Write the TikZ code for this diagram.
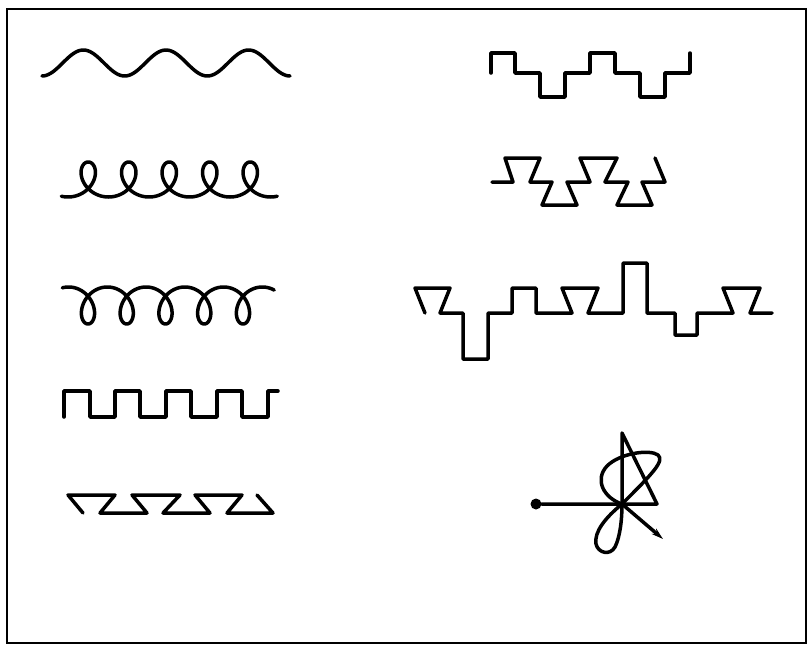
\documentclass[tikz,border=0pt]{standalone}
\usepackage{tikz}
\usetikzlibrary{arrows.meta}

\begin{document}
\begin{tikzpicture}[
  x=1pt, y=-1pt,
  stroke/.style={line width=3.5pt, line join=round, line cap=round},
  frame/.style={line width=2pt},
  dot/.style={circle, fill=black, inner sep=0pt, minimum size=11pt},
  arr/.style={-{Stealth[length=12pt, width=7pt]}}
]
  \useasboundingbox (0,0) rectangle (807,646);
  \draw[frame] (7,9) rectangle (806,643);

  % left column
  \draw[stroke] plot[domain=42:290, samples=120] (\x, {63+13*cos(4.355*(\x-42))});
  \draw[stroke] plot[domain=-0.3:31.72, samples=400, variable=\t]
    ({68+40.5*\t/(2*pi)+16*sin(\t r)}, {179.5+17.5*cos(\t r)});
  \draw[stroke] plot[domain=-0.3:32.0, samples=400, variable=\t]
    ({68.6+38.75*\t/(2*pi)+15*sin(\t r)}, {305.5-18.5*cos(\t r)});
  \draw[stroke] (64,417) -- (64,391) -- (90,391) -- (90,417) -- (115,417) -- (115,391)
    -- (140,391) -- (140,417) -- (166,417) -- (166,391) -- (191,391) -- (191,417)
    -- (217,417) -- (217,391) -- (242,391) -- (242,417) -- (268,417) -- (268,391) -- (278,391);
  \draw[stroke] (83,513) -- (68,495) -- (115,495) -- (100,513) -- (147,513) -- (132,495)
    -- (180,495) -- (163,513) -- (210,513) -- (195,495) -- (242,495) -- (227,513)
    -- (273,513) -- (257,495);

  % right column
  \draw[stroke] (491,73) -- (491,53) -- (515,53) -- (515,73) -- (540,73) -- (540,97)
    -- (565,97) -- (565,73) -- (590,73) -- (590,53) -- (615,53) -- (615,73)
    -- (640,73) -- (640,97) -- (665,97) -- (665,73) -- (690,73) -- (690,53);
  \draw[stroke] (492,182) -- (513,182) -- (505,158) -- (540,158) -- (530,182) -- (552,182)
    -- (542,205) -- (577,205) -- (567,182) -- (590,182) -- (580,158) -- (617,158)
    -- (605,182) -- (628,182) -- (617,205) -- (652,205) -- (642,182) -- (665,182) -- (655,158);
  \draw[stroke] (425,313) -- (415,288) -- (450,288) -- (440,313) -- (463,313) -- (463,359)
    -- (488,359) -- (488,313) -- (512,313) -- (512,288) -- (536,288) -- (536,313)
    -- (572,313) -- (562,288) -- (598,288) -- (588,313) -- (623,313) -- (623,263)
    -- (647,263) -- (647,313) -- (675,313) -- (675,335) -- (697,335) -- (697,313)
    -- (733,313) -- (723,288) -- (760,288) -- (750,313) -- (772,313);

  % vertex symbol
  \coordinate (hub) at (622,504);
  \coordinate (apex) at (622,433);
  \coordinate (corner) at (657,504);
  \coordinate (head) at (663,539);
  \node[dot] (src) at (536,504) {};
  \draw[stroke] (src) -- (hub) -- (apex) -- (corner) -- (hub);
  \draw[stroke, arr] (hub) -- (head);
  \draw[stroke] (hub) .. controls (604,498) and (594,480) .. (607,466)
    .. controls (620,453) and (650,449) .. (658,455)
    .. controls (665,461) and (652,474) .. (hub)
    .. controls (605,518) and (594,532) .. (596,544)
    .. controls (598,553) and (610,556) .. (615,547)
    .. controls (620,537) and (622,520) .. (hub);
\end{tikzpicture}
\end{document}
